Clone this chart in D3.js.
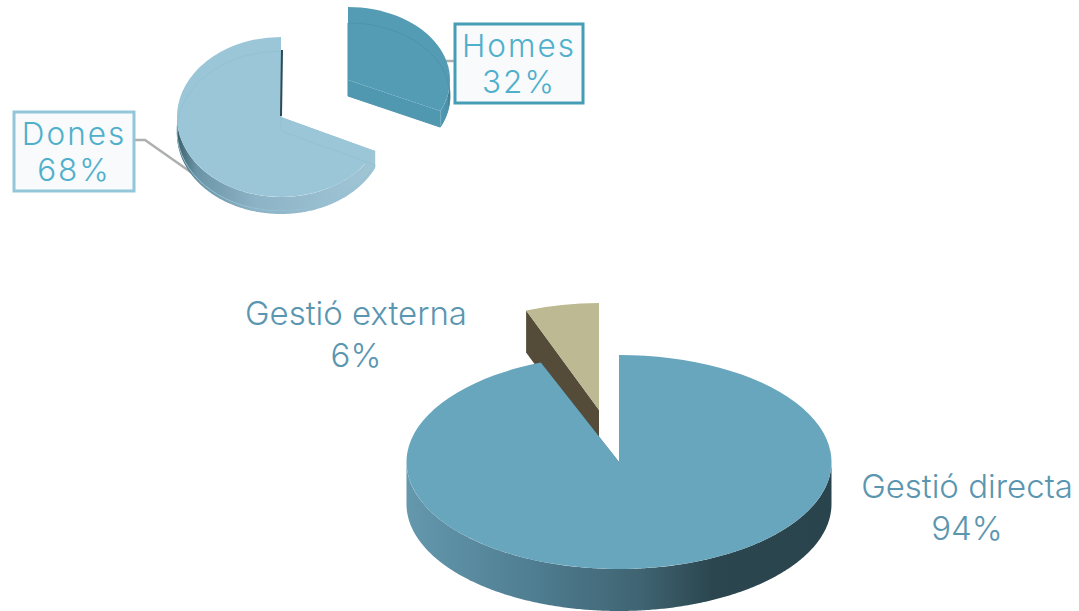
<!DOCTYPE html>
<html>
<head>
<meta charset="utf-8">
<script src="https://cdn.jsdelivr.net/npm/d3@7"></script>
<style>
  html, body { margin: 0; padding: 0; background: #fff; }
  svg { display: block; }
  text { font-family: Inter, Lato, sans-serif; font-variant-ligatures: none; }
</style>
</head>
<body>
<div id="chart"></div>
<script>
const width = 1079;
const height = 611;

const genderNames = ["Homes", "Dones"];
const genderValues = [32, 68];
const managementNames = ["Gestió directa", "Gestió externa"];
const managementValues = [94, 6];

const svg = d3.select("#chart").append("svg")
  .attr("width", width)
  .attr("height", height);
const defs = svg.append("defs");

function addGradient(id, stops) {
  const g = defs.append("linearGradient").attr("id", id);
  stops.forEach((s) => g.append("stop").attr("offset", s[0]).attr("stop-color", s[1]));
}
addGradient("wallBig", [[0, "#6498ad"], [0.3, "#4f7d91"], [0.55, "#3f6472"], [0.72, "#2b464f"], [1, "#2a444d"]]);
addGradient("wallDones", [[0, "#3d5f6c"], [0.1, "#6b95a6"], [0.4, "#8db3c6"], [1, "#a0c6d6"]]);
addGradient("wallHomes", [[0, "#4f9ab3"], [0.8, "#4a91a8"], [1, "#27505f"]]);

const pie = d3.pie().sort(null).value((d) => d);

// draws one slice of a tilted pie: cut faces, outer wall, then the top
function drawSlice(slice, p) {
  const rx = d3.scaleLinear().domain([-1, 1]).range([p.cx - p.r, p.cx + p.r]);
  const ry = d3.scaleLinear().domain([-1, 1]).range([p.cy - p.ry, p.cy + p.ry]);
  const px = (a) => rx(Math.sin(a));
  const py = (a) => ry(-Math.cos(a));
  const g = svg.append("g");

  // cut faces
  [slice.startAngle, slice.endAngle].forEach((a) => {
    const pts = [
      [p.cx, p.cy],
      [px(a), py(a)],
      [px(a), py(a) + p.depth],
      [p.cx, p.cy + p.depth],
    ];
    g.append("path")
      .attr("d", d3.line().curve(d3.curveLinearClosed)(pts))
      .attr("fill", p.cutColor);
  });

  // outer wall, only the part that faces the viewer
  const from = Math.max(slice.startAngle, Math.PI / 2);
  const to = Math.min(slice.endAngle, (3 * Math.PI) / 2);
  if (to > from) {
    const angles = d3.range(from, to, 0.01).concat([to]);
    const area = d3.area()
      .x((a) => px(a))
      .y0((a) => py(a))
      .y1((a) => py(a) + p.depth);
    g.append("path").attr("d", area(angles)).attr("fill", p.wall);
  }

  // top face
  const arc = d3.arc().innerRadius(0).outerRadius(p.r);
  g.append("path")
    .attr("transform", `translate(${p.cx},${p.cy}) scale(1,${p.ry / p.r})`)
    .attr("d", arc(slice))
    .attr("fill", p.top);

  // faint second rim seen on the small pie
  if (p.rim) {
    g.append("path")
      .attr("transform", `translate(${p.cx},${p.cy + p.rim}) scale(1,${p.ry / p.r})`)
      .attr("d", arc(slice))
      .attr("fill", "none")
      .attr("stroke", p.rimColor)
      .attr("stroke-width", 1)
      .attr("vector-effect", "non-scaling-stroke");
  }
}

const gender = pie(genderValues);
const management = pie(managementValues);

// leader lines sit under the slices and boxes
const leader = d3.line();
svg.append("path")
  .attr("d", leader([[134, 140], [145, 140], [192, 173]]))
  .attr("fill", "none").attr("stroke", "#aeb0b0").attr("stroke-width", 2.5);
svg.append("path")
  .attr("d", leader([[432, 42], [444, 61], [456, 61]]))
  .attr("fill", "none").attr("stroke", "#aeb0b0").attr("stroke-width", 2.5);

// top pie
drawSlice(gender[1], {
  cx: 281, cy: 117, r: 104, ry: 80, depth: 17,
  top: "#9ac6d7", wall: "url(#wallDones)", cutColor: "#9ac6d7",
  rim: 14, rimColor: "#94c1d3",
});
svg.append("path")
  .attr("d", leader([[282, 50], [281, 116]]))
  .attr("fill", "none").attr("stroke", "#2d4a56").attr("stroke-width", 2);
drawSlice(gender[0], {
  cx: 348, cy: 80, r: 102, ry: 73, depth: 16,
  top: "#539cb4", wall: "url(#wallHomes)", cutColor: "#4f98b0",
  rim: 16, rimColor: "#4c94ab",
});

// bottom pie
drawSlice(management[1], {
  cx: 599, cy: 410, r: 198, ry: 107, depth: 42,
  top: "#bdb992", wall: "#544c38", cutColor: "#544c38",
});
drawSlice(management[0], {
  cx: 619, cy: 462, r: 212.5, ry: 107, depth: 42,
  top: "#68a6bd", wall: "url(#wallBig)", cutColor: "#3f6472",
});

// boxed labels
function boxLabel(x, y, w, h, stroke, name, value) {
  svg.append("rect")
    .attr("x", x).attr("y", y).attr("width", w).attr("height", h)
    .attr("fill", "#f8fafb").attr("stroke", stroke).attr("stroke-width", 3);
  const t = svg.append("text")
    .attr("text-anchor", "middle")
    .attr("fill", "#4fb0cc")
    .attr("font-size", 31.5)
    .attr("font-weight", 300)
    .attr("letter-spacing", 2);
  t.append("tspan").attr("x", x + w / 2).attr("y", y + 33).text(name);
  t.append("tspan").attr("x", x + w / 2).attr("y", y + 69).text(value + "%");
}
boxLabel(14, 112, 120, 79, "#93c6d9", genderNames[1], genderValues[1]);
boxLabel(455, 24, 128, 79, "#469db6", genderNames[0], genderValues[0]);

// plain labels
function plainLabel(x, y, name, value) {
  const t = svg.append("text")
    .attr("text-anchor", "middle")
    .attr("fill", "#5b96b0")
    .attr("font-size", 33)
    .attr("font-weight", 300);
  t.append("tspan").attr("x", x).attr("y", y).text(name);
  t.append("tspan").attr("x", x).attr("y", y + 42).text(value + "%");
}
plainLabel(356, 325, managementNames[1], managementValues[1]);
plainLabel(967, 498, managementNames[0], managementValues[0]);
</script>
</body>
</html>
